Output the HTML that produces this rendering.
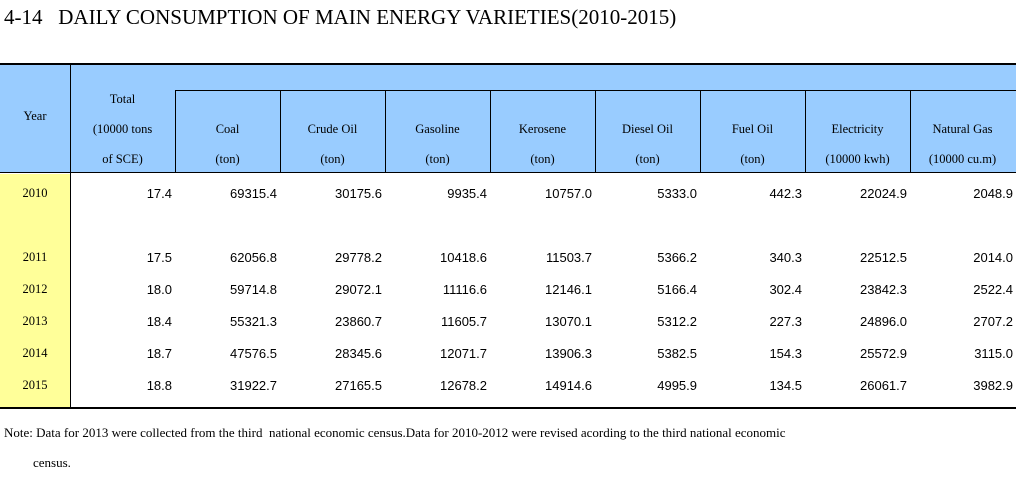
<!DOCTYPE html>
<html><head><meta charset="utf-8"><style>
body{margin:0;width:1016px;height:480px;background:#fff;position:relative;overflow:hidden;font-family:"Liberation Serif",serif}
.a{position:absolute}
.h{position:absolute;font-family:"Liberation Serif",serif;font-size:12.5px;text-align:center;color:#000}
.d{position:absolute;font-family:"Liberation Sans",sans-serif;font-size:13px;text-align:right;color:#000}
.y{position:absolute;font-family:"Liberation Serif",serif;font-size:12.5px;text-align:center;width:70px;left:0}
</style></head><body>
<div class="a" style="left:4px;top:5px;font-size:21px;white-space:nowrap">4-14&nbsp;&nbsp; DAILY CONSUMPTION OF MAIN ENERGY VARIETIES(2010-2015)</div>
<div class="a" style="left:0;top:65px;width:1016px;height:108px;background:#99ccff"></div>
<div class="a" style="left:0;top:174px;width:70px;height:234px;background:#ffff99"></div>
<div class="a" style="left:0;top:63px;width:1016px;height:2px;background:#000"></div>
<div class="a" style="left:0;top:172px;width:1016px;height:1px;background:#000"></div>
<div class="a" style="left:0;top:407px;width:1016px;height:2px;background:#000"></div>
<div class="a" style="left:175px;top:90px;width:841px;height:1px;background:#000"></div>
<div id="tbl"></div>
<div class="a" style="left:4px;top:425px;font-size:13px;white-space:nowrap">Note: Data for 2013 were collected from the third&nbsp; national economic census.Data for 2010-2012 were revised acording to the third national economic</div>
<div class="a" style="left:33px;top:455px;font-size:13px">census.</div>
<script>
const years=["2010","2011","2012","2013","2014","2015"];
const total=["17.4","17.5","18.0","18.4","18.7","18.8"];
const coal=["69315.4","62056.8","59714.8","55321.3","47576.5","31922.7"];
const crude=["30175.6","29778.2","29072.1","23860.7","28345.6","27165.5"];
const gasoline=["9935.4","10418.6","11116.6","11605.7","12071.7","12678.2"];
const kerosene=["10757.0","11503.7","12146.1","13070.1","13906.3","14914.6"];
const diesel=["5333.0","5366.2","5166.4","5312.2","5382.5","4995.9"];
const fuel=["442.3","340.3","302.4","227.3","154.3","134.5"];
const elec=["22024.9","22512.5","23842.3","24896.0","25572.9","26061.7"];
const gas=["2048.9","2014.0","2522.4","2707.2","3115.0","3982.9"];
const heads=[["Coal","(ton)"],["Crude Oil","(ton)"],["Gasoline","(ton)"],["Kerosene","(ton)"],["Diesel Oil","(ton)"],["Fuel Oil","(ton)"],["Electricity","(10000 kwh)"],["Natural Gas","(10000 cu.m)"]];
const cols=[total,coal,crude,gasoline,kerosene,diesel,fuel,elec,gas];
const rowY=[186,250,282,314,346,378];
const t=document.getElementById('tbl');
function add(cls,txt,css,name){const e=document.createElement('div');e.className=cls;e.textContent=txt;e.style.cssText=css;


t.appendChild(e);}
function line(css,name){const e=document.createElement('div');e.className='a';e.style.cssText='background:#000;'+css;


t.appendChild(e);}
line('left:70px;top:65px;width:1px;height:343px','year-separator');
line('left:175px;top:90px;width:1px;height:83px','total-separator');
for(let i=1;i<8;i++)line('left:'+(175+i*105)+'px;top:90px;width:1px;height:83px','column-separator');
add('h','Year','left:0;top:109px;width:70px','year-header');
add('h','Total','left:70px;top:92px;width:105px','total-header');
add('h','(10000 tons','left:70px;top:122px;width:105px','total-unit');
add('h','of SCE)','left:70px;top:152px;width:105px','total-unit');
heads.forEach((h,i)=>{const x=175+i*105;
add('h',h[0],'left:'+x+'px;top:122px;width:105px','column-header');
add('h',h[1],'left:'+x+'px;top:152px;width:105px','column-unit');});
years.forEach((y,r)=>{
add('y',y,'top:'+rowY[r]+'px','year-label');
cols.forEach((c,i)=>{const right=70+(i+1)*105-3-(i==8?-1:0);
add('d',c[r],'left:'+(right-100)+'px;width:100px;top:'+rowY[r]+'px','data-cell');});});
</script>
</body></html>
